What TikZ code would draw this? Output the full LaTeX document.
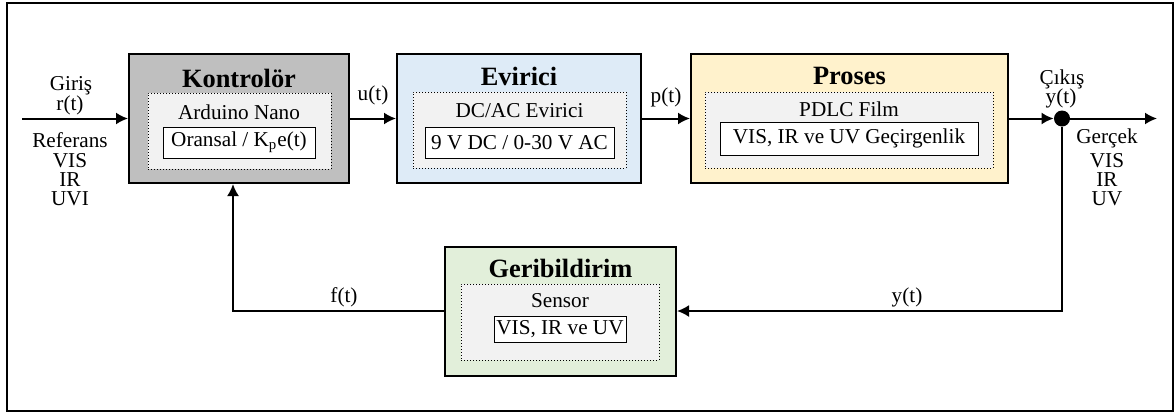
\documentclass[tikz,border=0pt]{standalone}
\usepackage{fontspec}
\setmainfont{Liberation Serif}
\newfontfamily\tnr{Liberation Serif}
\usetikzlibrary{arrows.meta}

\definecolor{konfill}{RGB}{191,191,191}
\definecolor{evrfill}{RGB}{222,235,247}
\definecolor{prsfill}{RGB}{255,242,204}
\definecolor{grbfill}{RGB}{226,239,218}
\definecolor{icfill}{RGB}{242,242,242}

\tikzset{
  blok/.style={draw, line width=1pt, minimum height=64.5pt, inner sep=0pt},
  ickutu/.style={draw, densely dotted, line width=0.5pt, fill=icfill, minimum height=38pt, inner sep=0pt},
  kutu/.style={draw, line width=0.5pt, fill=white, minimum height=15.5pt, inner sep=0pt},
  baslik/.style={font=\tnr\fontsize{13.2}{15}\selectfont\bfseries},
  ok/.style={line width=1pt, -{Latex[length=6pt,width=6pt]}},
  etiket/.style={inner sep=0pt}
}

\begin{document}
\begin{tikzpicture}[x=0.5pt, y=-0.5pt, every node/.style={font=\tnr\fontsize{10.6}{12}\selectfont}]
\useasboundingbox (0,0) rectangle (1176,414);
\draw[line width=0.75pt] (7,3) rectangle (1173,411);

% Kontrolor
\node[blok, fill=konfill, minimum width=110pt] (kon) at (239,118.5) {};
\node[ickutu, minimum width=91.5pt] (konic) at (239.5,131) {};
\node[kutu, minimum width=76pt] (konkt) at (239,142.5) {Oransal / K\textsubscript{p}e(t)};
\node[baslik] (kontit) at (239,78) {Kontrolör};
\node (konalt) at (239,112) {Arduino Nano};

% Evirici
\node[blok, fill=evrfill, minimum width=122pt] (evr) at (519,118.5) {};
\node[ickutu, minimum width=106.5pt] (evric) at (519.5,130) {};
\node[kutu, minimum width=94.5pt] (evrkt) at (519.5,142.5) {9 V DC / 0-30 V AC};
\node[baslik] (evrtit) at (519,76) {Evirici};
\node (evralt) at (519.5,111) {DC/AC Evirici};

% Proses
\node[blok, fill=prsfill, minimum width=158.5pt] (prs) at (849.5,118.5) {};
\node[ickutu, minimum width=144pt] (prsic) at (849,130) {};
\node[kutu, minimum width=129pt, minimum height=16.5pt] (prskt) at (849,138.5) {VIS, IR ve UV Geçirgenlik};
\node[baslik] (prstit) at (849.5,76) {Proses};
\node (prsalt) at (849,109) {PDLC Film};

% Geribildirim
\node[blok, fill=grbfill, minimum width=115.5pt] (grb) at (560.5,311) {};
\node[ickutu, minimum width=99pt] (grbic) at (560,322) {};
\node[kutu, minimum width=66pt, minimum height=13pt] (grbkt) at (560,329) {VIS, IR ve UV};
\node[baslik] (grbtit) at (560.5,268) {Geribildirim};
\node (grbalt) at (560,301) {Sensor};

\node[circle, fill, inner sep=0pt, minimum size=8pt] (jn) at (1062,118.5) {};
\coordinate (giris) at (22,118.5);
\coordinate (cikis) at (1157,118.5);
\coordinate (fb) at (233,311);

\draw[ok] (giris) -- (kon.west);
\draw[ok] (kon) -- node[above=3pt] (ut) {u(t)} (evr);
\draw[ok] (evr) -- node[above=2pt] (pt) {p(t)} (prs);
\draw[ok] (prs) -- (jn);
\draw[ok] (jn) -- (cikis);
\draw[ok] (jn) |- (grb);
\draw[ok] (grb) -- (fb) -- (fb |- kon.south);

\node (ft) at (344,297) {f(t)};
\node (yt) at (907,297) {y(t)};

% giris ve cikis yazilari
\node[etiket] (girtxt) at (71,86) {Giriş};
\node[etiket] (rt) at (70,105) {r(t)};
\node[etiket] (reftxt) at (70,140) {Referans};
\foreach \t/\y in {VIS/161,IR/180,UVI/199} \node[etiket] (ref\t) at (70,\y) {\t};
\node[etiket] (ciktxt) at (1062,79) {Çıkış};
\node[etiket] (yto) at (1061,98) {y(t)};
\node[etiket] (gertxt) at (1107,138) {Gerçek};
\foreach \t/\y in {VIS/161,IR/180,UV/199} \node[etiket] (ger\t) at (1107,\y) {\t};
\end{tikzpicture}
\end{document}
